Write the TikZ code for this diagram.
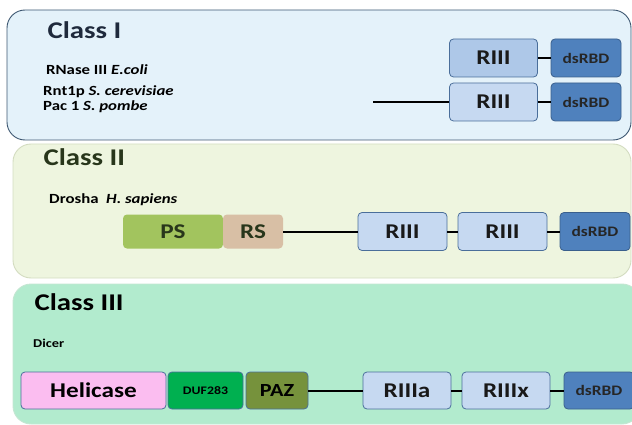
\documentclass[tikz,border=0pt]{standalone}
\usepackage{fontspec}
\setmainfont{Carlito}[FakeStretch=1.2]
\usepackage{xcolor}
\definecolor{fondoI}{HTML}{E4F2FA}
\definecolor{bordeI}{HTML}{3E5872}
\definecolor{fondoII}{HTML}{EEF5DF}
\definecolor{bordeII}{HTML}{D3DCC0}
\definecolor{fondoIII}{HTML}{B2EBCE}
\definecolor{bordeIII}{HTML}{C4E6D2}
\definecolor{azulmedio}{HTML}{AEC8E8}
\definecolor{azulclaro}{HTML}{C6D9F1}
\definecolor{bordeazul}{HTML}{4A6E9A}
\definecolor{azuloscuro}{HTML}{4F81BD}
\definecolor{bordeoscuro}{HTML}{3A5F8C}
\definecolor{verdePS}{HTML}{A2C45E}
\definecolor{marronRS}{HTML}{D8BFA5}
\definecolor{textoII}{HTML}{28361B}
\definecolor{rosa}{HTML}{FBBDF0}
\definecolor{verdeDUF}{HTML}{00B050}
\definecolor{oliva}{HTML}{76923C}
\definecolor{tituloI}{HTML}{1F2A3C}
\begin{document}
\begin{tikzpicture}[x=1pt,y=-1pt,
  dominio/.style={rounded corners=4pt,minimum height=38pt,inner sep=0pt,line width=0.8pt,
    font=\bfseries\fontsize{21}{21}\selectfont},
  riii/.style={dominio,draw=bordeazul,fill=azulclaro,text=black!90},
  dsrbd/.style={dominio,draw=bordeoscuro,fill=azuloscuro,text=black!85,minimum width=70pt,
    font=\bfseries\fontsize{14.5}{14.5}\selectfont},
  titulo/.style={anchor=base west,font=\bfseries\fontsize{24}{24}\selectfont},
  especie/.style={anchor=base west,inner sep=0pt,font=\bfseries\fontsize{14}{14}\selectfont},
  enlace/.style={line width=2pt}]
  \useasboundingbox (0,0) rectangle (632,425);
  % paneles
  \draw[bordeI,fill=fondoI,line width=0.9pt,rounded corners=18pt] (7,10) rectangle (631,140);
  \draw[bordeII,fill=fondoII,line width=0.9pt,rounded corners=18pt] (13,144) rectangle (631,278);
  \draw[bordeIII,fill=fondoIII,line width=0.9pt,rounded corners=18pt] (13,284) rectangle (640,424);
  % Class I
  \node[titulo,text=tituloI] (tI) at (44,39) {Class I};
  \node[especie] (ecoli) at (46,75) {RNase III \textit{E.coli}};
  \node[especie] (rnt1p) at (43,96) {Rnt1p \textit{S. cerevisiae}};
  \node[especie] (pac1) at (43,111) {Pac 1 \textit{S. pombe}};
  \node[riii,fill=azulmedio,minimum width=88pt] (r1a) at (493.5,58) {RIII};
  \node[dsrbd] (d1a) at (586,58) {dsRBD};
  \node[riii,minimum width=88pt] (r1b) at (493.5,102) {RIII};
  \node[dsrbd] (d1b) at (586,102) {dsRBD};
  \coordinate (c1) at (373,102);
  \draw[enlace] (r1a) -- (d1a);
  \draw[enlace] (c1) -- (r1b);
  \draw[enlace] (r1b) -- (d1b);
  % Class II
  \node[titulo,text=textoII] (tII) at (40,165) {Class II};
  \node[especie] (drosha) at (49,204) {Drosha\ \ \textit{H. sapiens}};
  \node[dominio,fill=verdePS,text=textoII,minimum width=100pt,minimum height=34pt] (ps) at (173,231.5) {PS};
  \node[dominio,fill=marronRS,text=textoII,minimum width=60pt,minimum height=34pt] (rs) at (253,231.5) {RS};
  \node[riii,minimum width=89pt] (r2a) at (402.5,231.5) {RIII};
  \node[riii,minimum width=89pt] (r2b) at (502.5,231.5) {RIII};
  \node[dsrbd] (d2) at (595,231.5) {dsRBD};
  \draw[enlace] (rs) -- (r2a);
  \draw[enlace] (r2a) -- (r2b);
  \draw[enlace] (r2b) -- (d2);
  % Class III
  \node[titulo,text=black] (tIII) at (31,310) {Class III};
  \node[especie,font=\bfseries\fontsize{12}{12}\selectfont] (dicer) at (33,347) {Dicer};
  \node[dominio,draw=bordeazul,fill=rosa,minimum width=145pt,minimum height=37pt] (hel) at (93.5,390.5) {Helicase};
  \node[dominio,draw=bordeazul,fill=verdeDUF,minimum width=75pt,minimum height=37pt,
    font=\bfseries\fontsize{11.5}{11.5}\selectfont] (duf) at (205.5,390.5) {DUF283};
  \node[dominio,draw=bordeazul,fill=oliva,minimum width=62pt,minimum height=37pt,
    font=\bfseries\fontsize{18.5}{18.5}\selectfont] (paz) at (277,390.5) {PAZ};
  \node[riii,minimum width=88pt,minimum height=37pt] (r3a) at (407,390.5) {RIIIa};
  \node[riii,minimum width=88pt,minimum height=37pt] (r3x) at (506,390.5) {RIIIx};
  \node[dsrbd,minimum height=37pt] (d3) at (599,390.5) {dsRBD};
  \draw[enlace] (paz) -- (r3a);
  \draw[enlace] (r3a) -- (r3x);
  \draw[enlace] (r3x) -- (d3);
\end{tikzpicture}
\end{document}
